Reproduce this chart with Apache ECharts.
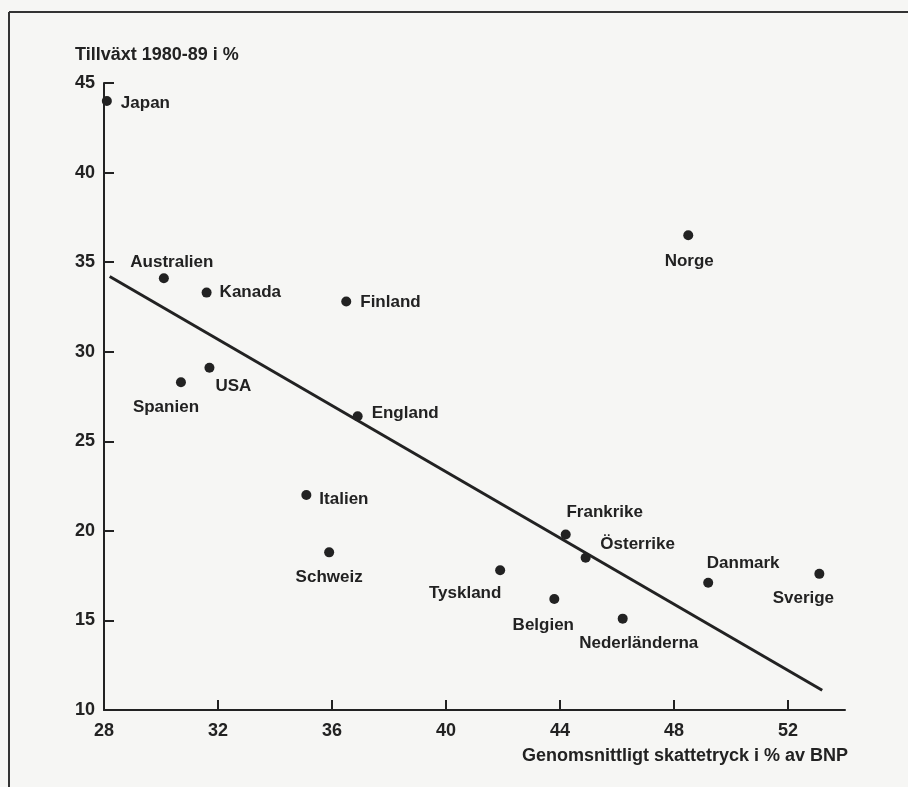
<!DOCTYPE html>
<html>
<head>
<meta charset="utf-8">
<script src="https://cdn.jsdelivr.net/npm/echarts@6/dist/echarts.min.js"></script>
<style>
html,body{margin:0;padding:0;background:#f6f6f4;}
#chart{width:908px;height:787px;}
</style>
</head>
<body>
<div id="chart"></div>
<script>
// ---- data ----
const countries = ["Japan","Australien","Kanada","Finland","USA","Spanien","England","Italien","Schweiz","Tyskland","Belgien","Nederländerna","Frankrike","Österrike","Danmark","Sverige","Norge"];
const taxRate   = [28.1, 30.1, 31.6, 36.5, 31.7, 30.7, 36.9, 35.1, 35.9, 41.9, 43.8, 46.2, 44.2, 44.9, 49.2, 53.1, 48.5];
const growth    = [44.0, 34.1, 33.3, 32.8, 29.1, 28.3, 26.4, 22.0, 18.8, 17.8, 16.2, 15.1, 19.8, 18.5, 17.1, 17.6, 36.5];
const trendX = [28.2, 53.2];
const trendY = [34.2, 11.1];
const xTicks = [28, 32, 36, 40, 44, 48, 52];
const yTicks = [10, 15, 20, 25, 30, 35, 40, 45];

// label placement (style only): [align, dx, dy]
const place = {
  "Japan":["left",14,2], "Australien":["center",8,-16], "Kanada":["left",13,0],
  "Finland":["left",14,1], "USA":["left",6,18], "Spanien":["center",-15,25],
  "England":["left",14,-3], "Italien":["left",13,4], "Schweiz":["center",0,25],
  "Tyskland":["center",-35,23], "Belgien":["center",-11,26], "Nederländerna":["center",16,25],
  "Frankrike":["center",39,-22], "Österrike":["center",52,-13], "Danmark":["center",35,-19],
  "Sverige":["center",-16,24], "Norge":["center",1,26]
};

const FONT = '"Liberation Sans", Arial, sans-serif';
const ink = '#222222';

const pts = countries.map((c,i)=>{
  const p = place[c];
  return {
    name: c,
    value: [taxRate[i], growth[i]],
    label: {show:true, position:'inside', align:p[0], verticalAlign:'middle', offset:[p[1],p[2]],
            formatter:c, color:ink, fontFamily:FONT, fontWeight:'bold', fontSize:17}
  };
});

const chart = echarts.init(document.getElementById('chart'), null, {renderer:'canvas'});
chart.setOption({
  backgroundColor:'#f6f6f4',
  animation:false,
  grid:{left:104, top:83, right:63, bottom:77, containLabel:false},
  xAxis:{
    type:'value', min:28, max:54, interval:4,
    splitLine:{show:false},
    axisLine:{onZero:false, lineStyle:{color:ink, width:2}},
    axisTick:{inside:true, length:10, lineStyle:{color:ink, width:2}, customValues:xTicks},
    axisLabel:{customValues:xTicks, color:ink, fontFamily:FONT, fontWeight:'bold', fontSize:18, margin:12}
  },
  yAxis:{
    type:'value', min:10, max:45, interval:5,
    splitLine:{show:false},
    axisLine:{onZero:false, lineStyle:{color:ink, width:2}},
    axisTick:{inside:true, length:10, lineStyle:{color:ink, width:2}, customValues:yTicks},
    axisLabel:{customValues:yTicks, color:ink, fontFamily:FONT, fontWeight:'bold', fontSize:18, margin:9}
  },
  series:[
    {
      type:'line', data:trendX.map((x,i)=>[x,trendY[i]]), symbol:'none',
      lineStyle:{color:ink, width:3, opacity:1}, z:1, silent:true
    },
    {
      type:'scatter', data:pts, symbol:'circle', symbolSize:10,
      itemStyle:{color:ink, opacity:1}, z:3
    }
  ],
  graphic:[
    {type:'line', shape:{x1:9,y1:12,x2:908,y2:12}, style:{stroke:'#333', lineWidth:2}},
    {type:'line', shape:{x1:9,y1:12,x2:9,y2:787}, style:{stroke:'#333', lineWidth:2}},
    {type:'text', left:75, top:46, style:{text:'Tillväxt 1980-89 i %', fill:ink, font:'bold 18px '+FONT}},
    {type:'text', right:60, top:747, style:{text:'Genomsnittligt skattetryck i % av BNP', fill:ink, font:'bold 18px '+FONT}}
  ]
});
</script>
</body>
</html>
